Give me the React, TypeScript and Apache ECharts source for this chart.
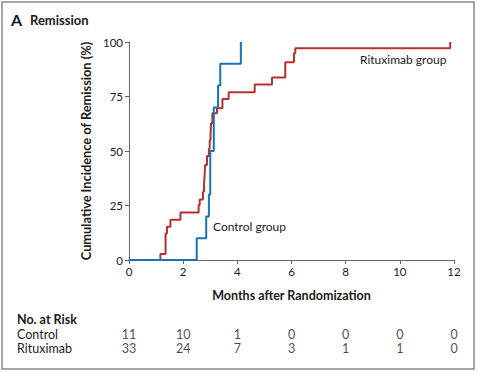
import React, { useEffect, useRef } from "react";
import * as echarts from "echarts";

const controlData: [number, number][] = [
  [0, 0], [2.5, 10], [2.85, 20], [2.95, 30], [3.0, 50], [3.13, 70], [3.29, 80], [3.37, 90], [4.13, 100],
];
const rituximabData: [number, number][] = [
  [0, 0], [1.16, 2.8], [1.35, 12.2], [1.4, 15.3], [1.53, 18.5], [1.9, 21.8], [2.57, 25.2], [2.61, 27.8],
  [2.73, 31.3], [2.77, 34.5], [2.79, 38.5], [2.81, 43.6], [2.88, 47.7], [2.95, 51], [2.98, 55], [3.01, 58],
  [3.03, 62.7], [3.08, 67.3], [3.25, 69.6], [3.45, 73.9], [3.68, 76.9], [4.64, 80.5], [5.28, 83.7],
  [5.77, 90.7], [6.09, 94.8], [6.14, 97.1], [11.86, 100],
];
const riskMonths = [0, 2, 4, 6, 8, 10, 12];
const riskControl = [11, 10, 1, 0, 0, 0, 0];
const riskRituximab = [33, 24, 7, 3, 1, 1, 0];
const riskRows = ["Rituximab", "Control"];

const RED = "#b2322f";
const BLUE = "#1b72b5";
const TXT = "#1a1a1a";
const FONT = "Lato";

export default function App() {
  const ref = useRef<HTMLDivElement>(null);
  useEffect(() => {
    if (!ref.current) return;
    const chart = echarts.init(ref.current, undefined, { renderer: "svg" });
    const riskPoints: any[] = [];
    riskMonths.forEach((m, i) => {
      riskPoints.push([m, "Control", riskControl[i]]);
      riskPoints.push([m, "Rituximab", riskRituximab[i]]);
    });
    chart.setOption({
      animation: false,
      backgroundColor: "#fff",
      textStyle: { fontFamily: FONT },
      grid: [
        { left: 129, right: 26, top: 42, bottom: 112 },
        { left: 129, right: 26, top: 327, height: 28 },
      ],
      xAxis: [
        {
          type: "value", min: 0, max: 12, interval: 2, gridIndex: 0,
          name: "Months after Randomization", nameLocation: "middle", nameGap: 29,
          nameTextStyle: { fontFamily: FONT, fontWeight: "bold", fontSize: 12.5, color: TXT },
          axisLine: { lineStyle: { color: "#666", width: 1 } },
          axisTick: { show: true, length: 4, lineStyle: { color: "#666" } },
          axisLabel: { fontFamily: FONT, fontSize: 11.5, color: TXT, margin: 5 },
          splitLine: { show: false },
        },
        { type: "value", min: 0, max: 12, gridIndex: 1, show: false },
      ],
      yAxis: [
        {
          type: "value", min: 0, max: 100, interval: 25, gridIndex: 0,
          name: "Cumulative Incidence of Remission (%)", nameLocation: "middle", nameGap: 36,
          nameTextStyle: { fontFamily: FONT, fontWeight: "bold", fontSize: 12.8, color: TXT },
          axisLine: { show: true, lineStyle: { color: "#666", width: 1 } },
          axisTick: { show: true, length: 4, lineStyle: { color: "#666" } },
          axisLabel: { fontFamily: FONT, fontSize: 11.5, color: TXT, margin: 6 },
          splitLine: { show: false },
        },
        {
          type: "category", data: riskRows, gridIndex: 1,
          axisLine: { show: false }, axisTick: { show: false },
          axisLabel: { interval: 0, align: "left", margin: 112, fontFamily: FONT, fontSize: 12.5, lineHeight: 13, color: TXT },
        },
      ],
      series: [
        {
          type: "line", step: "end", data: rituximabData, xAxisIndex: 0, yAxisIndex: 0,
          showSymbol: false, lineStyle: { color: RED, width: 2 }, z: 3,
        },
        {
          type: "line", step: "end", data: controlData, xAxisIndex: 0, yAxisIndex: 0,
          showSymbol: false, lineStyle: { color: BLUE, width: 2 }, z: 4,
        },
        {
          type: "scatter", xAxisIndex: 1, yAxisIndex: 1, data: riskPoints, symbolSize: 0,
          label: {
            show: true, position: "inside", formatter: (p: any) => String(p.value[2]),
            fontFamily: FONT, fontSize: 12.5, lineHeight: 13, color: TXT,
          },
        },
      ],
      graphic: [
        { type: "rect", shape: { x: 2, y: 2, width: 472, height: 367 }, style: { fill: "none", stroke: "#8a8a8a", lineWidth: 1.5 }, silent: true },
        { type: "text", x: 11, y: 11, style: { text: "A", font: `bold 16px ${FONT}`, fill: TXT } },
        { type: "text", x: 30, y: 13, style: { text: "Remission", font: `bold 13px ${FONT}`, fill: TXT } },
        { type: "text", x: 360, y: 53, style: { text: "Rituximab group", font: `12px ${FONT}`, fill: TXT } },
        { type: "text", x: 213, y: 220, style: { text: "Control group", font: `12px ${FONT}`, fill: TXT } },
        { type: "text", x: 17, y: 313, style: { text: "No. at Risk", font: `bold 12.5px ${FONT}`, fill: TXT } },
      ],
    });
    return () => chart.dispose();
  }, []);
  return <div ref={ref} style={{ position: "fixed", left: 0, top: 0, width: 480, height: 372 }} />;
}
